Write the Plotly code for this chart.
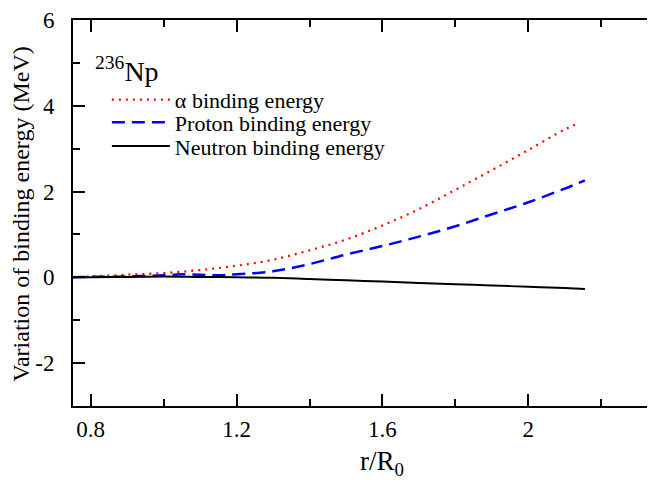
import plotly.graph_objects as go

# r/R0 grid and binding-energy variations (MeV)
r_alpha = [0.75, 0.8, 0.9, 1.0, 1.1, 1.2, 1.3, 1.4, 1.5, 1.6, 1.7, 1.8, 1.9, 2.0, 2.1, 2.14]
e_alpha = [0.0, 0.02, 0.06, 0.10, 0.17, 0.27, 0.41, 0.63, 0.88, 1.21, 1.59, 2.04, 2.50, 2.97, 3.45, 3.60]

r_proton = [0.75, 0.8, 0.9, 1.0, 1.05, 1.1, 1.15, 1.2, 1.3, 1.4, 1.5, 1.6, 1.7, 1.8, 1.9, 2.0, 2.1, 2.155]
e_proton = [0.0, 0.01, 0.02, 0.05, 0.07, 0.06, 0.05, 0.07, 0.14, 0.31, 0.53, 0.73, 0.95, 1.19, 1.47, 1.75, 2.07, 2.26]

r_neutron = [0.75, 0.8, 0.9, 1.0, 1.1, 1.2, 1.3, 1.4, 1.5, 1.6, 1.7, 1.8, 1.9, 2.0, 2.1, 2.155]
e_neutron = [0.0, 0.0, 0.01, 0.02, 0.01, 0.0, -0.01, -0.04, -0.07, -0.10, -0.13, -0.16, -0.19, -0.22, -0.25, -0.27]

x_tickvals = [0.8, 1.2, 1.6, 2.0]
x_ticktext = ["0.8", "1.2", "1.6", "2"]
y_tickvals = [-2, 0, 2, 4, 6]
y_ticktext = ["-2", "0", "2", "4", "6"]

FONT = "Liberation Serif, Times New Roman, serif"

fig = go.Figure()
fig.add_trace(go.Scatter(x=r_alpha, y=e_alpha, mode="lines", name="\u03b1 binding energy",
                         line=dict(color="#ff0000", width=2.2, dash="2px,5px", shape="spline"),
                         legend="legend"))
fig.add_trace(go.Scatter(x=r_proton, y=e_proton, mode="lines", name="Proton binding energy",
                         line=dict(color="#0000ff", width=2.5, dash="13px,7px", shape="spline"),
                         legend="legend2"))
fig.add_trace(go.Scatter(x=r_neutron, y=e_neutron, mode="lines", name="Neutron binding energy",
                         line=dict(color="#000000", width=2, shape="spline"),
                         legend="legend3"))

axis_common = dict(showgrid=False, zeroline=False, showline=True, linecolor="black", linewidth=2,
                   mirror="ticks", ticks="inside", ticklen=12, tickwidth=2, tickcolor="black",
                   ticklabeloverflow="allow",
                   tickfont=dict(family=FONT, size=23, color="black"))

fig.update_xaxes(range=[0.7516, 2.3636], tickvals=x_tickvals, ticktext=x_ticktext,
                 minor=dict(dtick=0.2, tick0=0.8, ticks="inside", ticklen=7, tickwidth=2, tickcolor="black"),
                 ticklabelstandoff=1,
                 **axis_common)
fig.update_yaxes(range=[-3, 6], tickvals=y_tickvals, ticktext=y_ticktext,
                 minor=dict(dtick=1, tick0=0, ticks="inside", ticklen=7, tickwidth=2, tickcolor="black"),
                 ticklabelstandoff=12,
                 **axis_common)

# axis titles
fig.add_annotation(text="r/R<sub>0</sub>", xref="paper", yref="paper", x=0.525, y=-0.148,
                   xanchor="center", yanchor="middle", showarrow=False,
                   font=dict(family=FONT, size=27, color="black"))
fig.add_annotation(text="Variation of binding energy (MeV)", xref="paper", yref="paper",
                   x=-0.0898, y=0.496, xanchor="center", yanchor="middle", textangle=-90,
                   showarrow=False, font=dict(family=FONT, size=24, color="black"))

fig.add_annotation(text="<sup>236</sup>Np", xref="paper", yref="paper", x=0.0339, y=0.873,
                   xanchor="left", yanchor="middle", showarrow=False,
                   font=dict(family=FONT, size=28, color="black"))

leg_common = dict(x=0.0576, xanchor="left", yanchor="middle", bgcolor="rgba(0,0,0,0)",
                  font=dict(family=FONT, size=22, color="black"), itemwidth=58, borderwidth=0)

fig.update_layout(
    width=655, height=482,
    margin=dict(l=65, r=0, t=6, b=84),
    paper_bgcolor="white", plot_bgcolor="white",
    showlegend=True,
    legend=dict(y=0.793, **leg_common),
    legend2=dict(y=0.7347, **leg_common),
    legend3=dict(y=0.673, **leg_common),
)

fig.write_html("out.html")
